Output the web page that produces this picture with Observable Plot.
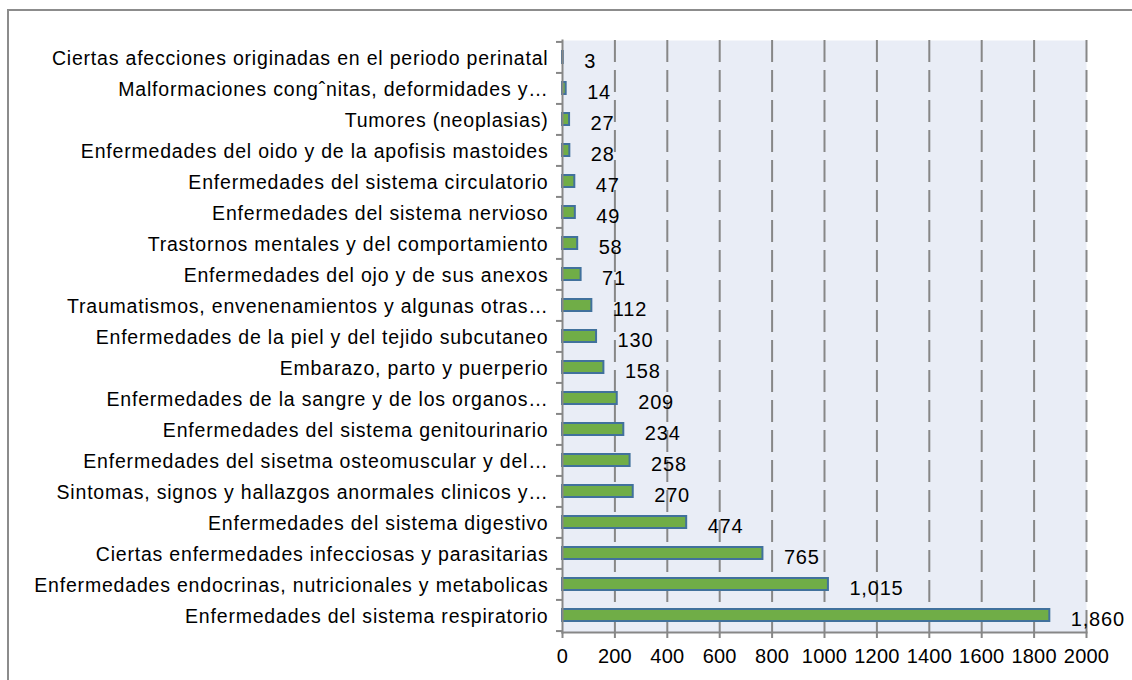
<!DOCTYPE html>
<html>
<head>
<meta charset="utf-8">
<script src="https://cdn.jsdelivr.net/npm/d3@7"></script>
<script src="https://cdn.jsdelivr.net/npm/@observablehq/plot@0.6"></script>
<style>
  html, body { margin: 0; padding: 0; background: #fff; overflow: hidden; }
  #wrap { position: relative; width: 1132px; height: 680px; }
  #border { position: absolute; left: 7px; top: 9px; width: 1140px; height: 700px; border: 2px solid #8c8c8c; box-sizing: border-box; }
  #chart { position: absolute; left: 0; top: 0; }
  #chart svg text { letter-spacing: 0.8px; }
  #chart svg g[aria-label="x-axis tick label"] text { letter-spacing: 0.2px; }
</style>
</head>
<body>
<div id="wrap"><div id="border"></div><div id="chart"></div></div>
<script>
const categories = [
  "Ciertas afecciones originadas en el periodo perinatal",
  "Malformaciones congˆnitas, deformidades y…",
  "Tumores (neoplasias)",
  "Enfermedades del oido y de la apofisis mastoides",
  "Enfermedades del sistema circulatorio",
  "Enfermedades del sistema nervioso",
  "Trastornos mentales y del comportamiento",
  "Enfermedades del ojo y de sus anexos",
  "Traumatismos, envenenamientos y algunas otras…",
  "Enfermedades de la piel y del tejido subcutaneo",
  "Embarazo, parto y puerperio",
  "Enfermedades de la sangre y de los organos…",
  "Enfermedades del sistema genitourinario",
  "Enfermedades del sisetma osteomuscular y del…",
  "Sintomas, signos y hallazgos anormales clinicos y…",
  "Enfermedades del sistema digestivo",
  "Ciertas enfermedades infecciosas y parasitarias",
  "Enfermedades endocrinas, nutricionales y metabolicas",
  "Enfermedades del sistema respiratorio"
];
const values = [3, 14, 27, 28, 47, 49, 58, 71, 112, 130, 158, 209, 234, 258, 270, 474, 765, 1015, 1860];
const xTicks = [0, 200, 400, 600, 800, 1000, 1200, 1400, 1600, 1800, 2000];

const data = categories.map((c, i) => ({category: c, value: values[i]}));
const fmt = d3.format(",");

const W = 1132, H = 680, mT = 40, mB = 48, mL = 562, mR = 46;
const step = (H - mT - mB) / categories.length;
const grid = "#878787";

const chart = Plot.plot({
  width: W, height: H,
  marginTop: mT, marginBottom: mB, marginLeft: mL, marginRight: mR,
  style: {fontFamily: "'Liberation Sans', Arial, sans-serif", background: "transparent", color: "#000", overflow: "visible"},
  x: {domain: [0, 2000], ticks: xTicks, label: null},
  y: {domain: categories, paddingInner: 0.62, paddingOuter: 0.31, label: null},
  marks: [
    Plot.frame({fill: "#e9edf6", stroke: null}),
    Plot.gridX(xTicks.slice(1), {stroke: grid, strokeOpacity: 1, strokeWidth: 2, strokeDasharray: "22,8"}),
    Plot.barX(data, {x: "value", y: "category", fill: "#70ad47", stroke: "#41719c", strokeWidth: 2}),
    Plot.text(data, {x: "value", y: "category", text: d => fmt(d.value), dx: 21, dy: 4, textAnchor: "start", fontSize: 20, fill: "#000"}),
    Plot.frame({anchor: "left", stroke: grid, strokeWidth: 2}),
    Plot.frame({anchor: "bottom", stroke: grid, strokeWidth: 2}),
    Plot.axisX({ticks: xTicks, tickSize: 6, tickPadding: 10, stroke: grid, strokeWidth: 2, fontSize: 20, tickFormat: d => String(d)}),
    Plot.axisY({tickSize: 0, tickPadding: 14, fontSize: 19.5, dy: 1}),
    Plot.axisY({tickSize: 6, tickFormat: () => "", dy: -step / 2, stroke: grid, strokeWidth: 2}),
    Plot.axisY(categories.slice(-1), {tickSize: 6, tickFormat: () => "", dy: step / 2, stroke: grid, strokeWidth: 2})
  ]
});
document.getElementById("chart").appendChild(chart);
</script>
</body>
</html>
